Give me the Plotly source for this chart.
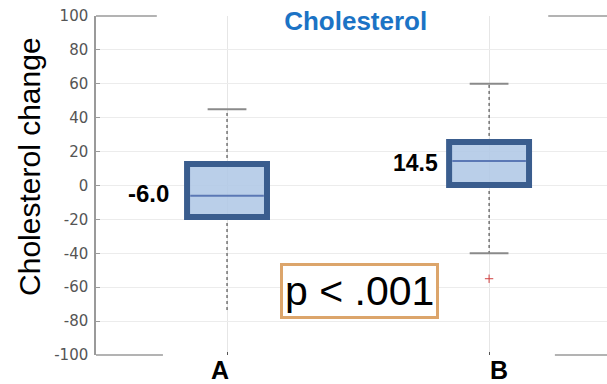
import plotly.graph_objects as go

# Data
categories = ["A", "B"]
q1 = [-18.6, 0.3]
median = [-6.0, 14.5]
q3 = [12.7, 25.7]
lower_whisker = [-75, -40]
upper_whisker = [45, 60]
lower_cap_show = [False, True]
outlier_cat = ["B"]
outlier_val = [-55]
median_labels = ["-6.0", "14.5"]
y_ticks = [-100, -80, -60, -40, -20, 0, 20, 40, 60, 80, 100]
y_tick_text = [str(v) for v in y_ticks]

BOX_W = 0.305
CAP_W = 0.148

fig = go.Figure()

# whiskers (dotted) and caps
for i, c in enumerate(categories):
    fig.add_trace(go.Scatter(x=[i, i], y=[q3[i], upper_whisker[i]], mode="lines",
                             line=dict(color="#333", width=1, dash="dot"), showlegend=False, hoverinfo="skip"))
    fig.add_trace(go.Scatter(x=[i, i], y=[q1[i], lower_whisker[i]], mode="lines",
                             line=dict(color="#333", width=1, dash="dot"), showlegend=False, hoverinfo="skip"))
    fig.add_trace(go.Scatter(x=[i - CAP_W / 2, i + CAP_W / 2], y=[upper_whisker[i]] * 2, mode="lines",
                             line=dict(color="#8a8a8a", width=2), showlegend=False, hoverinfo="skip"))
    if lower_cap_show[i]:
        fig.add_trace(go.Scatter(x=[i - CAP_W / 2, i + CAP_W / 2], y=[lower_whisker[i]] * 2, mode="lines",
                                 line=dict(color="#8a8a8a", width=2), showlegend=False, hoverinfo="skip"))

# boxes (filled rectangles; path goes one extra side so every corner is joined)
for i, c in enumerate(categories):
    xl, xr = i - BOX_W / 2, i + BOX_W / 2
    fig.add_trace(go.Scatter(x=[xl, xr, xr, xl, xl, xr], y=[q1[i], q1[i], q3[i], q3[i], q1[i], q1[i]],
                             mode="lines", fill="toself", fillcolor="rgba(176,200,230,0.88)",
                             line=dict(color="#3a5d8e", width=6), showlegend=False, hoverinfo="skip"))
    fig.add_trace(go.Scatter(x=[xl + 0.012, xr - 0.012], y=[median[i]] * 2, mode="lines",
                             line=dict(color="#5b78b5", width=2), showlegend=False, hoverinfo="skip"))

# outlier
fig.add_trace(go.Scatter(x=[categories.index(c) for c in outlier_cat], y=outlier_val, mode="markers",
                         marker=dict(symbol="cross-thin", size=6, line=dict(color="#d04040", width=1)),
                         showlegend=False, hoverinfo="skip"))

# median labels
label_x = [-0.3, 0.72]
label_y = [-4.5, 13]
label_size = [24, 23]
for i in range(len(categories)):
    fig.add_annotation(x=label_x[i], y=label_y[i], text="<b>%s</b>" % median_labels[i], showarrow=False,
                       font=dict(size=label_size[i], color="black", family="Liberation Sans"))

# category labels
cat_shift = [-7, 10]
for i, c in enumerate(categories):
    fig.add_annotation(x=i, y=0, yref="paper", yanchor="top", yshift=1, xshift=cat_shift[i],
                       text="<b>%s</b>" % c, showarrow=False,
                       font=dict(size=25, color="black", family="Liberation Sans"))

# y-axis title
fig.add_annotation(x=-0.129, xref="paper", xanchor="center", y=0.555, yref="paper", yanchor="middle",
                   text="Cholesterol change", textangle=-90, showarrow=False,
                   font=dict(size=30, color="black", family="Liberation Sans"))

# p-value box
fig.add_annotation(x=0.504, y=-62, text="p < .001", showarrow=False,
                   font=dict(size=41, color="black", family="Liberation Sans"),
                   bordercolor="#dca56b", borderwidth=3, borderpad=2, bgcolor="white")

# partial frame lines
for (x0, x1, yy) in [(0, 0.119, 1), (0.885, 1, 1), (0, 0.131, 0), (0.898, 1, 0)]:
    fig.add_shape(type="line", xref="paper", yref="paper", x0=x0, x1=x1, y0=yy, y1=yy,
                  line=dict(color="#9a9a9a", width=1.5))

fig.update_layout(
    width=607, height=384,
    margin=dict(l=96, r=0, t=16, b=29),
    plot_bgcolor="white", paper_bgcolor="white",
    font=dict(family="Liberation Sans"),
    title=dict(text="<b>Cholesterol</b>", x=0.586, xanchor="center", y=0.945, yanchor="middle",
               font=dict(size=26, color="#1b73c5", family="Liberation Sans")),
    xaxis=dict(range=[-0.5, 1.45], tickmode="array", tickvals=[0, 1], ticktext=["", ""],
               showgrid=True, gridcolor="#e6e6e6",
               ticks="inside", ticklen=3, tickcolor="#555", zeroline=False, showline=False),
    yaxis=dict(range=[-100, 100], tickmode="array", tickvals=y_ticks, ticktext=y_tick_text,
               tickfont=dict(size=15, color="#555", family="DejaVu Sans"),
               showgrid=True, gridcolor="#ececec", zeroline=False,
               showline=True, linecolor="#9a9a9a", linewidth=1.5,
               ticks="inside", ticklen=4, tickcolor="#9a9a9a", ticklabelstandoff=3),
)

fig.write_html("out.html", config={"displayModeBar": False},
               post_script="document.body.style.margin='0';")
